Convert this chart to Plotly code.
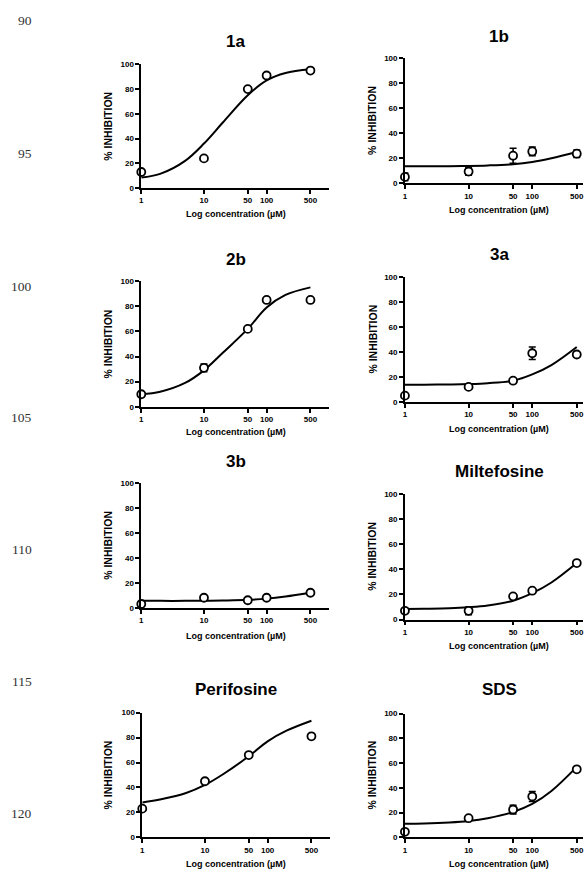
import plotly.graph_objects as go

# ---------------- data ----------------
conc = [1, 10, 50, 100, 500]
conc_peri = [1, 10, 50, 500]
curve_conc = [1, 2, 5, 10, 20, 50, 100, 200, 500]

inh_1a = [13, 24, 80, 91, 95]
err_1a = [0, 0, 0, 0, 0]
fit_1a = [8.5, 11.5, 22, 36, 53, 75, 87, 93, 96]

inh_1b = [5, 9.3, 22, 25.4, 23.6]
err_1b = [3, 3, 6, 3.5, 3]
fit_1b = [13.5, 13.5, 13.6, 13.8, 14.2, 15.2, 17, 20, 25]

inh_2b = [10, 31, 62, 85, 85]
err_2b = [0, 3, 0, 0, 0]
fit_2b = [10, 12, 19, 29, 43, 62, 79, 89, 95]

inh_3a = [5, 12, 17, 39, 38]
err_3a = [0, 0, 0, 5, 0]
fit_3a = [13.8, 13.8, 14, 14.3, 15, 17, 22, 29.5, 44]

inh_3b = [3, 8, 6, 8, 12]
err_3b = [0, 0, 0, 0, 0]
fit_3b = [5.5, 5.5, 5.5, 5.6, 5.8, 6.3, 7.3, 9, 12]

inh_milte = [7, 7, 18.5, 23, 45]
err_milte = [0, 3, 0, 0, 0]
fit_milte = [8.4, 8.6, 9, 9.8, 11.2, 15, 21, 29.5, 45]

inh_peri = [23, 45, 66, 81]
err_peri = [0, 0, 0, 0]
fit_peri = [28, 30.5, 35.5, 42, 51, 65, 77, 85.5, 93.5]

inh_sds = [4.5, 15.5, 22.5, 33, 55]
err_sds = [0, 0, 3.5, 4, 0]
fit_sds = [11, 11.2, 12, 13.2, 15.5, 20.5, 27, 37.5, 57]

titles = ["1a", "1b", "2b", "3a", "3b", "Miltefosine", "Perifosine", "SDS"]
x_tick_vals = [1, 10, 50, 100, 500]
x_tick_text = ["1", "10", "50", "100", "500"]
y_tick_vals = [0, 20, 40, 60, 80, 100]
y_label = "% INHIBITION"
x_label = "Log concentration (µM)"
line_numbers = ["90", "95", "100", "105", "110", "115", "120"]

series = [
    (conc, inh_1a, err_1a, fit_1a),
    (conc, inh_1b, err_1b, fit_1b),
    (conc, inh_2b, err_2b, fit_2b),
    (conc, inh_3a, err_3a, fit_3a),
    (conc, inh_3b, err_3b, fit_3b),
    (conc, inh_milte, err_milte, fit_milte),
    (conc_peri, inh_peri, err_peri, fit_peri),
    (conc, inh_sds, err_sds, fit_sds),
]

# ---------------- layout (pixel geometry) ----------------
W, H = 584, 875
def px(x):
    return x / W
def py(y):
    return 1 - y / H

# (y-axis x pixel, x-axis end pixel, log range end, y100 pixel, y0 pixel)
geom = [
    (140, 329, 3.0, 61, 186),
    (405, 584, 2.797, 55, 181),
    (140, 329, 3.0, 280, 407),
    (405, 584, 2.797, 276, 402),
    (140, 329, 3.0, 484, 610),
    (405, 584, 2.797, 495, 622),
    (141, 330, 3.0, 716, 842),
    (405, 584, 2.797, 717, 842),
]
title_pos = [(235, 38), (500, 33), (235, 258), (500, 253),
             (235, 462), (500, 472), (235, 693), (500, 693)]
xlab_y = [212, 208, 432, 429, 639, 649, 869, 869]
ylab_x = [107, 372, 107, 372, 107, 372, 107, 372]
line_num_y = [17, 151, 285, 418, 551, 685, 818]

SANS = "Liberation Sans, Arial, sans-serif"
fig = go.Figure()
layout = dict(
    width=W, height=H, margin=dict(l=0, r=0, t=0, b=0),
    paper_bgcolor="white", plot_bgcolor="white", showlegend=False,
    font=dict(family=SANS, color="black"),
)
annotations = []

for i, ((cx, cy, ce, cf), (xl, xr, xmax, ytop, ybot)) in enumerate(zip(series, geom)):
    n = i + 1
    xa = "x" if n == 1 else f"x{n}"
    ya = "y" if n == 1 else f"y{n}"
    fig.add_trace(go.Scatter(
        x=curve_conc, y=cf, mode="lines", xaxis=xa, yaxis=ya,
        line=dict(color="black", width=2, shape="spline", smoothing=1.0),
        hoverinfo="skip", cliponaxis=False,
    ))
    fig.add_trace(go.Scatter(
        x=cx, y=cy, mode="markers", xaxis=xa, yaxis=ya,
        marker=dict(symbol="circle", size=8, color="white",
                    line=dict(color="black", width=1.8)),
        error_y=dict(type="data", array=ce, visible=True, color="black",
                     thickness=1.6, width=3.5),
        cliponaxis=False,
    ))
    xkey = "xaxis" if n == 1 else f"xaxis{n}"
    ykey = "yaxis" if n == 1 else f"yaxis{n}"
    layout[xkey] = dict(
        type="log", domain=[px(xl), px(xr)], range=[0, xmax], anchor=ya,
        showline=True, linecolor="black", linewidth=1.6,
        ticks="outside", ticklen=4, tickwidth=1.5, tickcolor="black",
        tickvals=x_tick_vals, ticktext=[f"<b>{t}</b>" for t in x_tick_text],
        tickfont=dict(family=SANS, size=8, color="black"),
        ticklabeloverflow="allow",
        showgrid=False, zeroline=False, fixedrange=True,
    )
    layout[ykey] = dict(
        domain=[py(ybot), py(ytop)], range=[0, 100], anchor=xa,
        showline=True, linecolor="black", linewidth=1.6,
        ticks="outside", ticklen=4, tickwidth=1.5, tickcolor="black",
        tickvals=y_tick_vals, ticktext=[f"<b>{v}</b>" for v in y_tick_vals],
        tickfont=dict(family=SANS, size=8, color="black"),
        ticklabeloverflow="allow",
        showgrid=False, zeroline=False, fixedrange=True,
    )
    tx, ty = title_pos[i]
    annotations.append(dict(
        text=f"<b>{titles[i]}</b>", x=px(tx), y=py(ty), xref="paper", yref="paper",
        xanchor="center", yanchor="middle", showarrow=False,
        font=dict(family=SANS, size=17, color="black"),
    ))
    annotations.append(dict(
        text=f"<b>{x_label}</b>", x=px(tx), y=py(xlab_y[i]), xref="paper", yref="paper",
        xanchor="center", yanchor="middle", showarrow=False,
        font=dict(family=SANS, size=9, color="black"),
    ))
    annotations.append(dict(
        text=f"<b>{y_label}</b>", x=px(ylab_x[i]), y=py((ytop + ybot) / 2),
        xref="paper", yref="paper", xanchor="center", yanchor="middle",
        showarrow=False, textangle=-90,
        font=dict(family=SANS, size=10.5, color="black"),
    ))

for txt, yy in zip(line_numbers, line_num_y):
    annotations.append(dict(
        text=txt, x=px(32), y=py(yy), xref="paper", yref="paper",
        xanchor="right", yanchor="middle", showarrow=False,
        font=dict(family="Liberation Serif, Times New Roman, serif", size=13.5, color="#333333"),
    ))

layout["annotations"] = annotations
fig.update_layout(**layout)
fig.write_html(
    "out.html",
    config={"displayModeBar": False},
    post_script="document.body.style.margin='0';document.body.style.overflow='hidden';",
)
